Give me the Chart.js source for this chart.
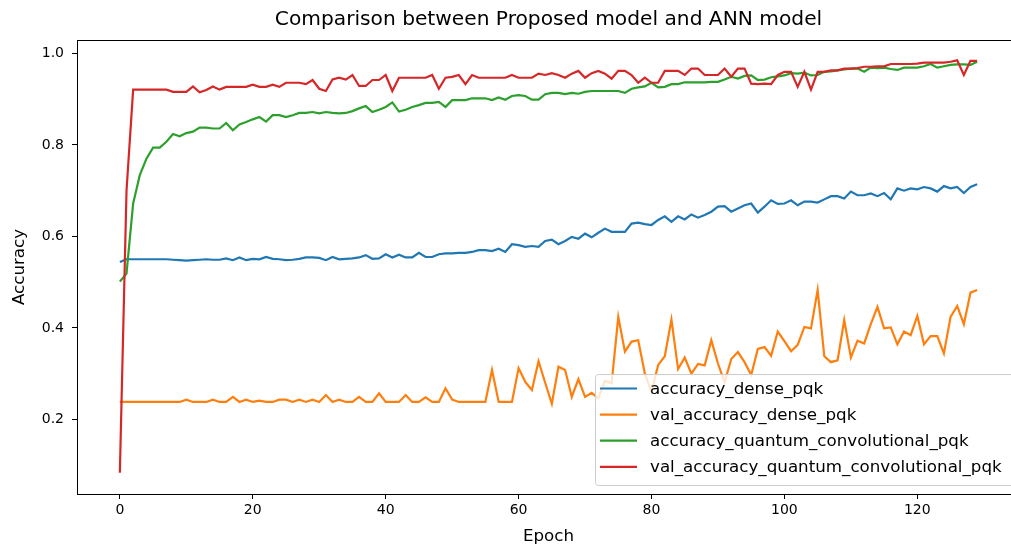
<!DOCTYPE html>
<html>
<head>
<meta charset="utf-8">
<script src="https://cdn.jsdelivr.net/npm/chart.js@4.4.0/dist/chart.umd.min.js"></script>
<style>
html, body { margin: 0; padding: 0; overflow: hidden; background: #fff; }
canvas { display: block; }
</style>
</head>
<body>
<canvas id="myChart" width="1030" height="545"></canvas>
<script>
// chart values
var accDense = [
  0.544,0.550,0.550,0.550,0.550,0.550,0.550,0.550,0.549,0.548,
  0.547,0.548,0.549,0.550,0.549,0.549,0.552,0.548,0.554,0.548,
  0.551,0.550,0.555,0.551,0.550,0.548,0.549,0.551,0.554,0.554,
  0.553,0.548,0.555,0.550,0.551,0.552,0.554,0.559,0.551,0.552,
  0.561,0.554,0.560,0.554,0.554,0.564,0.555,0.555,0.561,0.563,
  0.563,0.564,0.564,0.566,0.570,0.570,0.568,0.573,0.566,0.583,
  0.581,0.577,0.579,0.577,0.590,0.593,0.583,0.590,0.599,0.595,
  0.606,0.598,0.608,0.617,0.610,0.610,0.610,0.628,0.630,0.627,
  0.625,0.636,0.644,0.632,0.644,0.637,0.648,0.641,0.647,0.654,
  0.665,0.666,0.654,0.661,0.668,0.672,0.652,0.665,0.679,0.671,
  0.672,0.679,0.668,0.676,0.676,0.674,0.681,0.688,0.688,0.683,
  0.698,0.690,0.690,0.694,0.688,0.695,0.681,0.705,0.700,0.705,
  0.703,0.708,0.705,0.698,0.710,0.705,0.708,0.695,0.708,0.714
];
var valAccDense = [
  0.238,0.238,0.238,0.238,0.238,0.238,0.238,0.238,0.238,0.238,
  0.243,0.238,0.238,0.238,0.243,0.238,0.238,0.249,0.238,0.243,
  0.238,0.241,0.238,0.238,0.243,0.243,0.238,0.243,0.238,0.243,
  0.238,0.253,0.238,0.243,0.238,0.238,0.249,0.238,0.238,0.257,
  0.238,0.238,0.238,0.253,0.238,0.238,0.248,0.238,0.238,0.268,
  0.243,0.238,0.238,0.238,0.238,0.238,0.308,0.238,0.238,0.238,
  0.312,0.282,0.264,0.327,0.280,0.234,0.315,0.308,0.249,0.288,
  0.249,0.258,0.246,0.284,0.279,0.424,0.348,0.370,0.373,0.300,
  0.260,0.319,0.338,0.418,0.310,0.335,0.300,0.321,0.318,0.373,
  0.322,0.281,0.332,0.347,0.325,0.297,0.354,0.358,0.339,0.392,
  0.371,0.349,0.363,0.402,0.399,0.483,0.338,0.325,0.329,0.417,
  0.335,0.372,0.366,0.408,0.446,0.399,0.401,0.364,0.392,0.384,
  0.426,0.364,0.382,0.382,0.344,0.424,0.448,0.408,0.477,0.483
];
var accQuantum = [
  0.501,0.519,0.672,0.734,0.770,0.794,0.794,0.807,0.824,0.819,
  0.826,0.829,0.838,0.838,0.836,0.836,0.848,0.832,0.845,0.850,
  0.856,0.861,0.851,0.865,0.865,0.861,0.865,0.870,0.870,0.872,
  0.869,0.872,0.870,0.869,0.870,0.874,0.880,0.885,0.872,0.877,
  0.883,0.893,0.873,0.877,0.883,0.887,0.892,0.892,0.894,0.883,
  0.898,0.898,0.898,0.902,0.902,0.902,0.898,0.904,0.899,0.907,
  0.909,0.907,0.899,0.899,0.911,0.914,0.914,0.911,0.914,0.912,
  0.916,0.918,0.918,0.918,0.918,0.918,0.914,0.923,0.926,0.928,
  0.936,0.926,0.927,0.933,0.933,0.937,0.937,0.937,0.937,0.938,
  0.938,0.943,0.949,0.945,0.951,0.952,0.942,0.943,0.948,0.950,
  0.952,0.957,0.956,0.958,0.952,0.953,0.960,0.961,0.963,0.965,
  0.967,0.967,0.960,0.969,0.968,0.969,0.966,0.964,0.969,0.969,
  0.969,0.972,0.977,0.969,0.972,0.975,0.976,0.976,0.975,0.982
];
var valAccQuantum = [
  0.083,0.700,0.921,0.921,0.921,0.921,0.921,0.921,0.916,0.916,
  0.916,0.928,0.915,0.920,0.928,0.921,0.927,0.927,0.927,0.927,
  0.932,0.927,0.927,0.932,0.927,0.936,0.936,0.936,0.933,0.942,
  0.923,0.918,0.943,0.947,0.943,0.953,0.929,0.929,0.942,0.942,
  0.953,0.918,0.947,0.947,0.947,0.947,0.947,0.953,0.923,0.947,
  0.949,0.953,0.933,0.953,0.947,0.947,0.947,0.947,0.947,0.953,
  0.947,0.947,0.947,0.956,0.953,0.957,0.953,0.947,0.956,0.962,
  0.947,0.957,0.962,0.956,0.945,0.962,0.962,0.953,0.936,0.947,
  0.936,0.936,0.962,0.962,0.962,0.953,0.967,0.967,0.953,0.953,
  0.953,0.967,0.949,0.967,0.967,0.934,0.933,0.934,0.933,0.953,
  0.960,0.960,0.927,0.960,0.921,0.960,0.960,0.963,0.963,0.967,
  0.967,0.968,0.971,0.971,0.972,0.972,0.977,0.977,0.977,0.977,
  0.978,0.980,0.980,0.980,0.980,0.982,0.985,0.953,0.984,0.984
];
var seriesNames = ['accuracy_dense_pqk', 'val_accuracy_dense_pqk',
  'accuracy_quantum_convolutional_pqk', 'val_accuracy_quantum_convolutional_pqk'];
var seriesColors = ['#1f77b4', '#ff7f0e', '#2ca02c', '#d62728'];
var xTicks = [0, 20, 40, 60, 80, 100, 120];
var yTicks = [0.2, 0.4, 0.6, 0.8, 1.0];
var titleText = 'Comparison between Proposed model and ANN model';

var FONT = '"DejaVu Sans", sans-serif';
var allSeries = [accDense, valAccDense, accQuantum, valAccQuantum];

function toPoints(vals) {
  return vals.map(function(v, i) { return {x: i, y: v}; });
}

var datasets = allSeries.map(function(vals, k) {
  return {
    label: seriesNames[k],
    data: toPoints(vals),
    borderColor: seriesColors[k],
    backgroundColor: seriesColors[k],
    borderWidth: 2.2,
    pointRadius: 0,
    tension: 0,
    fill: false,
    order: 4 - k
  };
});

// axes frame, title and an in-plot legend like matplotlib's
var framePlugin = {
  id: 'frame',
  afterDatasetsDraw: function(chart) {
    var a = chart.chartArea, ctx = chart.ctx;
    ctx.save();
    ctx.strokeStyle = '#000';
    ctx.lineWidth = 1;
    ctx.strokeRect(a.left + 0.5, a.top + 0.5, a.right - a.left, a.bottom - a.top);
    ctx.restore();
  },
  afterDraw: function(chart) {
    var a = chart.chartArea, ctx = chart.ctx;
    ctx.save();
    ctx.fillStyle = '#000';
    ctx.font = '20.2px ' + FONT;
    ctx.textAlign = 'center';
    ctx.textBaseline = 'middle';
    ctx.fillText(titleText, (a.left + a.right) / 2, 20);

    // legend box
    var bx = 595, by = 374, bw = 440, bh = 111;
    ctx.beginPath();
    ctx.roundRect(bx + 0.5, by + 0.5, bw, bh, 3);
    ctx.fillStyle = 'rgba(255,255,255,0.8)';
    ctx.fill();
    ctx.strokeStyle = '#cccccc';
    ctx.lineWidth = 1;
    ctx.stroke();
    ctx.font = '16.7px ' + FONT;
    ctx.textAlign = 'left';
    chart.data.datasets.forEach(function(ds, k) {
      var y = 388.5 + k * 26.1;
      ctx.beginPath();
      ctx.moveTo(600, y);
      ctx.lineTo(637, y);
      ctx.strokeStyle = ds.borderColor;
      ctx.lineWidth = 2.2;
      ctx.stroke();
      ctx.fillStyle = '#000';
      ctx.fillText(ds.label, 650, y + 1);
    });
    ctx.restore();
  }
};

var ctx = document.getElementById('myChart');
var myChart = new Chart(ctx, {
  type: 'line',
  data: { datasets: datasets },
  plugins: [framePlugin],
  options: {
    responsive: false,
    animation: false,
    layout: { padding: { top: 40, right: 10, left: 0, bottom: 0 } },
    plugins: {
      legend: { display: false },
      title: { display: false },
      tooltip: { enabled: false }
    },
    scales: {
      x: {
        type: 'linear',
        min: -6.45,
        max: 135.45,
        afterBuildTicks: function(scale) {
          scale.ticks = xTicks.map(function(v) { return {value: v}; });
        },
        afterFit: function(scale) { scale.height = 51; },
        grid: { drawOnChartArea: false, drawTicks: true, tickLength: 5, color: '#000' },
        border: { display: true, color: '#000' },
        ticks: {
          color: '#000',
          padding: 3,
          maxRotation: 0,
          font: { family: FONT, size: 14 },
          callback: function(v) { return String(v); }
        },
        title: {
          display: true,
          text: 'Epoch',
          color: '#000',
          font: { family: FONT, size: 16.7, lineHeight: 1 },
          padding: { top: 0, bottom: 0 }
        }
      },
      y: {
        type: 'linear',
        min: 0.0367,
        max: 1.0295,
        afterBuildTicks: function(scale) {
          scale.ticks = yTicks.map(function(v) { return {value: v}; });
        },
        afterFit: function(scale) { scale.width = 77; },
        grid: { drawOnChartArea: false, drawTicks: true, tickLength: 5, color: '#000' },
        border: { display: true, color: '#000' },
        ticks: {
          color: '#000',
          padding: 8,
          font: { family: FONT, size: 14 },
          callback: function(v) { return v.toFixed(1); }
        },
        title: {
          display: true,
          text: 'Accuracy',
          color: '#000',
          font: { family: FONT, size: 16.7, lineHeight: 1 },
          padding: { top: 11.5, bottom: 0 }
        }
      }
    }
  }
});
</script>
</body>
</html>
